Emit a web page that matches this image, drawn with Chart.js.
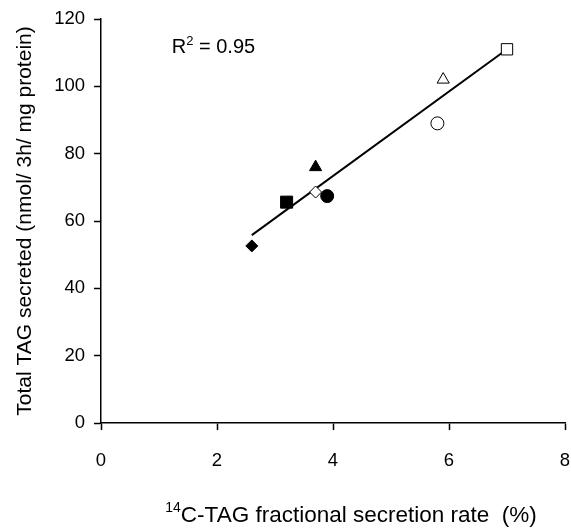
<!DOCTYPE html>
<html>
<head>
<meta charset="utf-8">
<script src="https://cdn.jsdelivr.net/npm/chart.js@4"></script>
<style>
  html, body { margin: 0; padding: 0; background: #fff; }
  #wrap { position: relative; width: 571px; height: 529px; }
</style>
</head>
<body>
<div id="wrap"><canvas id="c"></canvas></div>
<script>
// valores (x = taxa fracional %, y = TAG total)
const rateX = [7.0, 5.9, 5.8, 3.7, 3.7, 3.9, 3.2, 2.6];
const tagY = [111, 102, 89, 76, 68.6, 67.4, 65.6, 52.6];
const markStyle = ['rect', 'triangle', 'circle', 'triangle', 'rectRot', 'circle', 'rect', 'rectRot'];
const markFilled = [false, false, false, true, false, true, true, true];
const markRadius = [8, 7, 6.5, 7, 6, 6.5, 8.5, 6];
// reta de regressão (extremos lidos)
const fitX = [2.6, 7.0];
const fitY = [55.8, 111];
const xTicks = [0, 2, 4, 6, 8];
const yTicks = [0, 20, 40, 60, 80, 100, 120];

const FONT = 'Arial, "Liberation Sans", sans-serif';

const textPlugin = {
  id: 'texts',
  afterDraw(chart) {
    const ctx = chart.ctx;
    const xs = chart.scales.x, ys = chart.scales.y;
    ctx.save();
    ctx.fillStyle = '#000';
    ctx.textBaseline = 'alphabetic';
    ctx.textAlign = 'left';
    // R² label
    let px = xs.getPixelForValue(1.22), py = ys.getPixelForValue(109.9);
    ctx.font = '20px ' + FONT;
    ctx.fillText('R', px, py);
    px += ctx.measureText('R').width;
    ctx.font = '13px ' + FONT;
    ctx.fillText('2', px, py - 8);
    px += ctx.measureText('2').width;
    ctx.font = '20px ' + FONT;
    ctx.fillText(' = 0.95', px, py);
    // x title with superscript 14
    const sup = '14', main = 'C-TAG fractional secretion rate  (%)';
    ctx.font = '14px ' + FONT;
    const wSup = ctx.measureText(sup).width;
    ctx.font = '22.5px ' + FONT;
    const wMain = ctx.measureText(main).width;
    const tx = 351 - (wSup + wMain) / 2, ty = 522;
    ctx.font = '14px ' + FONT;
    ctx.fillText(sup, tx, ty - 10);
    ctx.font = '22.5px ' + FONT;
    ctx.fillText(main, tx + wSup, ty);
    // y title
    ctx.translate(25, (chart.chartArea.top + chart.chartArea.bottom) / 2);
    ctx.rotate(-Math.PI / 2);
    ctx.textAlign = 'center';
    ctx.textBaseline = 'middle';
    ctx.font = '21px ' + FONT;
    ctx.fillText('Total TAG secreted (nmol/ 3h/ mg protein)', 0, 0);
    ctx.restore();
  }
};

new Chart(document.getElementById('c'), {
  type: 'scatter',
  data: {
    datasets: [
      {
        label: 'pontos',
        data: rateX.map((x, i) => ({ x, y: tagY[i] })),
        pointStyle: markStyle,
        pointRadius: markRadius,
        pointHoverRadius: markRadius,
        pointBackgroundColor: markFilled.map(f => f ? '#000' : '#fff'),
        pointBorderColor: '#000',
        pointBorderWidth: 1,
        order: 0
      },
      {
        label: 'ajuste',
        type: 'line',
        data: fitX.map((x, i) => ({ x, y: fitY[i] })),
        borderColor: '#000',
        borderWidth: 2,
        pointRadius: 0,
        fill: false,
        order: 1
      }
    ]
  },
  options: {
    responsive: true,
    maintainAspectRatio: false,
    animation: false,
    layout: { autoPadding: false, padding: { top: 19, right: 6, left: 0, bottom: 0 } },
    plugins: { legend: { display: false }, tooltip: { enabled: false } },
    scales: {
      x: {
        type: 'linear', min: 0, max: 8,
        afterBuildTicks: axis => { axis.ticks = xTicks.map(v => ({ value: v })); },
        afterFit: axis => { axis.height = 106; axis.paddingLeft = 0; axis.paddingRight = 0; },
        border: { color: '#000', width: 1.5 },
        grid: { drawOnChartArea: false, color: '#000', tickColor: '#000', tickLength: 7, tickWidth: 1.5 },
        ticks: { color: '#000', font: { size: 18.5, family: FONT }, padding: 20 }
      },
      y: {
        type: 'linear', min: 0, max: 120,
        afterBuildTicks: axis => { axis.ticks = yTicks.map(v => ({ value: v })); },
        afterFit: axis => { axis.width = 101; axis.paddingTop = 0; axis.paddingBottom = 0; },
        border: { color: '#000', width: 1.5 },
        grid: { drawOnChartArea: false, color: '#000', tickColor: '#000', tickLength: 7, tickWidth: 1.5 },
        ticks: { color: '#000', font: { size: 18.5, family: FONT }, padding: 9 }
      }
    }
  },
  plugins: [textPlugin]
});
</script>
</body>
</html>
